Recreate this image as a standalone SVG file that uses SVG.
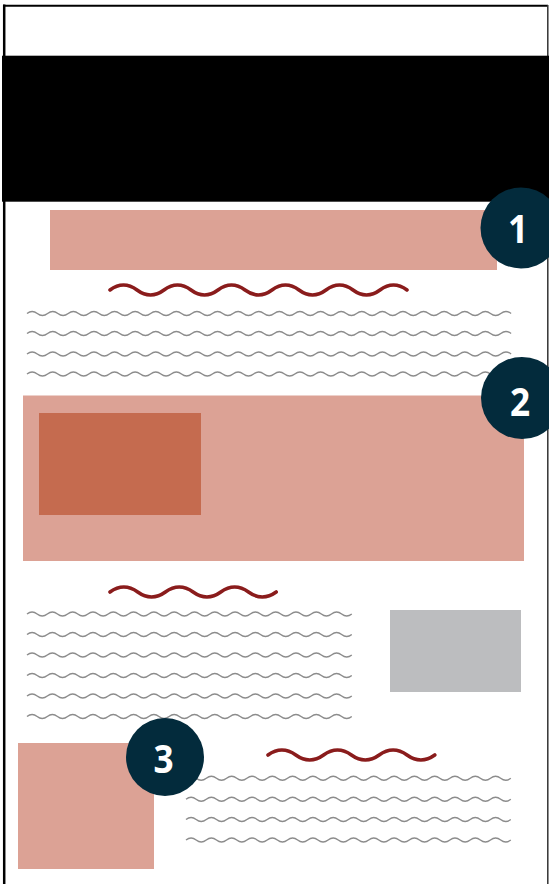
<svg xmlns="http://www.w3.org/2000/svg" xmlns:xlink="http://www.w3.org/1999/xlink" width="549" height="884" viewBox="0 0 549 884">
<style>
.pink{fill:#dca295}
.dark{fill:#c56b4f}
.grey{fill:#bcbdbf}
.gw{fill:none;stroke:#8c8c8c;stroke-width:1.4}
.rw{fill:none;stroke:#8a1c1c;stroke-width:3.6;stroke-linecap:round}
.badge circle{fill:#032b3c}
.badge text{fill:#ffffff;font-family:"Open Sans","Liberation Sans",sans-serif;font-weight:700;font-size:40px;text-anchor:middle}
</style>
<defs>
<path id="w1" d="M0,0q5.15,-4 10.3,0t10.3,0 10.3,0 10.3,0 10.3,0 10.3,0 10.3,0 10.3,0 10.3,0 10.3,0 10.3,0 10.3,0 10.3,0 10.3,0 10.3,0 10.3,0 10.3,0 10.3,0 10.3,0 10.3,0 10.3,0 10.3,0 10.3,0 10.3,0 10.3,0 10.3,0 10.3,0 10.3,0 10.3,0 10.3,0 10.3,0 10.3,0 10.3,0 10.3,0 10.3,0 10.3,0 10.3,0 10.3,0 10.3,0 10.3,0 10.3,0 10.3,0 10.3,0 10.3,0 10.3,0 10.3,0 10.3,0"/>
<path id="w2" d="M0,0q5.08,-4 10.15,0t10.15,0 10.15,0 10.15,0 10.15,0 10.15,0 10.15,0 10.15,0 10.15,0 10.15,0 10.15,0 10.15,0 10.15,0 10.15,0 10.15,0 10.15,0 10.15,0 10.15,0 10.15,0 10.15,0 10.15,0 10.15,0 10.15,0 10.15,0 10.15,0 10.15,0 10.15,0 10.15,0 10.15,0 10.15,0 10.15,0 10.15,0"/>
</defs>
<rect width="549" height="884" fill="#ffffff"/>
<g id="frame">
<line x1="4.2" y1="4.5" x2="4.2" y2="884" stroke="#000" stroke-width="2.5"/>
<line x1="3" y1="5.7" x2="548" y2="5.7" stroke="#000" stroke-width="2"/>
<line x1="547.8" y1="5" x2="547.8" y2="884" stroke="#333" stroke-width="1.5"/>
</g>
<g id="header"><rect x="2" y="55.7" width="547" height="146" fill="#000"/></g>
<g id="title-bar"><rect class="pink" x="50" y="210" width="447" height="60"/></g>
<g id="section1-text">
<path class="rw" d="M110,290q13.5,-10 27,0t27,0 27,0 27,0 27,0 27,0 27,0 27,0 27,0 27,0 27,0"/>
<use xlink:href="#w1" href="#w1" class="gw" x="27" y="313.5"/>
<use xlink:href="#w1" href="#w1" class="gw" x="27" y="333.5"/>
<use xlink:href="#w1" href="#w1" class="gw" x="27" y="354"/>
<use xlink:href="#w1" href="#w1" class="gw" x="27" y="374"/>
</g>
<g id="feature-block">
<rect class="pink" x="23" y="395.5" width="501" height="165.5"/>
<rect class="dark" x="39" y="413" width="162" height="102"/>
</g>
<g id="section2-text">
<path class="rw" d="M110,592q13.85,-10 27.7,0t27.7,0 27.7,0 27.7,0 27.7,0 27.7,0"/>
<use xlink:href="#w2" href="#w2" class="gw" x="27" y="614"/>
<use xlink:href="#w2" href="#w2" class="gw" x="27" y="634.5"/>
<use xlink:href="#w2" href="#w2" class="gw" x="27" y="655"/>
<use xlink:href="#w2" href="#w2" class="gw" x="27" y="675.5"/>
<use xlink:href="#w2" href="#w2" class="gw" x="27" y="696"/>
<use xlink:href="#w2" href="#w2" class="gw" x="27" y="716.5"/>
</g>
<g id="side-image"><rect class="grey" x="390" y="610" width="131" height="82"/></g>
<g id="bottom-image"><rect class="pink" x="18" y="743" width="136" height="126"/></g>
<g id="section3-text">
<path class="rw" d="M268,755q13.9,-10 27.8,0t27.8,0 27.8,0 27.8,0 27.8,0 27.8,0"/>
<use xlink:href="#w2" href="#w2" class="gw" x="186" y="778.3"/>
<use xlink:href="#w2" href="#w2" class="gw" x="186" y="799.3"/>
<use xlink:href="#w2" href="#w2" class="gw" x="186" y="819.5"/>
<use xlink:href="#w2" href="#w2" class="gw" x="186" y="840"/>
</g>
<g id="badge1" class="badge"><circle cx="521" cy="228" r="40.5"/><text x="518" y="243" transform="translate(518 0) scale(0.88 1) translate(-518 0)">1</text></g>
<g id="badge2" class="badge"><circle cx="522" cy="398" r="41"/><text x="520" y="416" transform="translate(520 0) scale(0.88 1) translate(-520 0)">2</text></g>
<g id="badge3" class="badge"><circle cx="165" cy="757" r="39"/><text x="163.5" y="773" transform="translate(163.5 0) scale(0.88 1) translate(-163.5 0)">3</text></g>
</svg>
